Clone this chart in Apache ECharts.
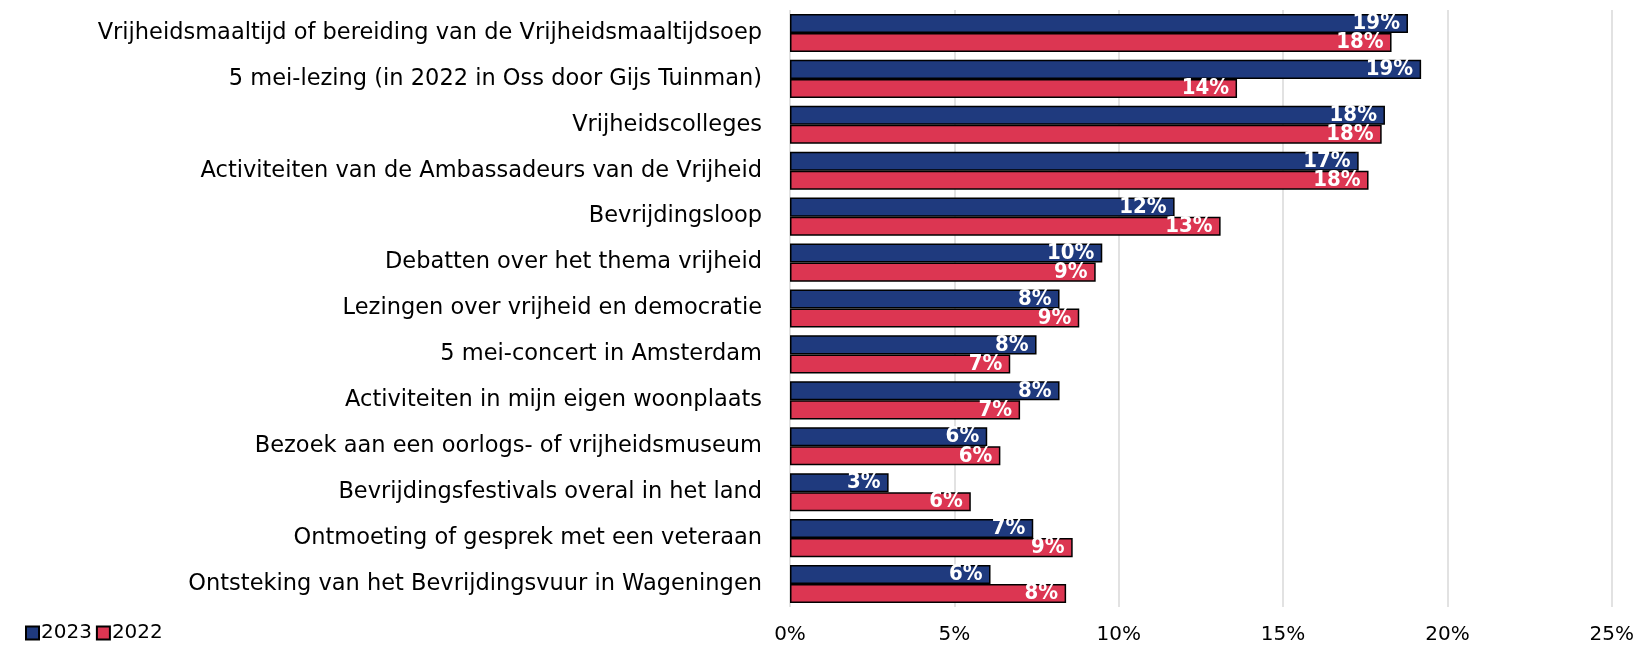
<!DOCTYPE html>
<html>
<head>
<meta charset="utf-8">
<script src="https://cdn.jsdelivr.net/npm/echarts@6/dist/echarts.min.js"></script>
<style>
  html, body { margin: 0; padding: 0; background: #fff; }
  #chart { width: 1637px; height: 646px; }
</style>
</head>
<body>
<div id="chart"></div>
<script>
// categorieen, van boven naar beneden
var categories = [
  'Vrijheidsmaaltijd of bereiding van de Vrijheidsmaaltijdsoep',
  '5 mei-lezing (in 2022 in Oss door Gijs Tuinman)',
  'Vrijheidscolleges',
  'Activiteiten van de Ambassadeurs van de Vrijheid',
  'Bevrijdingsloop',
  'Debatten over het thema vrijheid',
  'Lezingen over vrijheid en democratie',
  '5 mei-concert in Amsterdam',
  'Activiteiten in mijn eigen woonplaats',
  'Bezoek aan een oorlogs- of vrijheidsmuseum',
  'Bevrijdingsfestivals overal in het land',
  'Ontmoeting of gesprek met een veteraan',
  'Ontsteking van het Bevrijdingsvuur in Wageningen'
];
var values2023 = [18.8, 19.2, 18.1, 17.3, 11.7, 9.5, 8.2, 7.5, 8.2, 6.0, 3.0, 7.4, 6.1];
var values2022 = [18.3, 13.6, 18.0, 17.6, 13.1, 9.3, 8.8, 6.7, 7.0, 6.4, 5.5, 8.6, 8.4];
var seriesNames = ['2023', '2022'];
var xTicks = [0, 5, 10, 15, 20, 25];

var myChart = echarts.init(document.getElementById('chart'));

var labelFont = 'DejaVu Sans';

function valueLabel() {
    return {
        show: true,
        position: 'insideRight',
        distance: 8,
        color: '#fff',
        fontSize: 22,
        fontWeight: 'bold',
        fontFamily: 'DejaVu Sans Condensed',
        formatter: function (p) { return Math.round(p.value) + '%'; }
    };
}

var option = {
    animation: false,
    legend: {
        data: seriesNames,
        left: 20,
        bottom: -2,
        itemWidth: 13,
        itemHeight: 13,
        itemGap: 4,
        icon: 'rect',
        textStyle: { color: '#000', fontSize: 20, fontFamily: labelFont, padding: [0, 0, 0, -3] }
    },
    grid: {
        left: 790,
        right: 23,
        top: 10,
        bottom: 39
    },
    xAxis: {
        type: 'value',
        min: xTicks[0],
        max: xTicks[xTicks.length - 1],
        interval: 5,
        axisLine: { show: false },
        axisTick: { show: false },
        axisLabel: {
            color: '#000',
            fontSize: 20,
            fontFamily: labelFont,
            margin: 18,
            formatter: function (val) { return val + '%'; }
        },
        splitLine: { show: true, lineStyle: { color: '#d9d9d9', width: 1.5 } }
    },
    yAxis: {
        type: 'category',
        inverse: true,
        data: categories,
        axisLine: { show: false },
        axisTick: { show: false },
        axisLabel: {
            color: '#000',
            fontSize: 22.5,
            fontFamily: labelFont,
            margin: 28
        }
    },
    series: [
        {
            name: seriesNames[0],
            type: 'bar',
            data: values2023,
            barGap: '0%',
            barCategoryGap: '17%',
            itemStyle: { color: '#1f3a7e', borderColor: '#000', borderWidth: 1.5 },
            label: valueLabel()
        },
        {
            name: seriesNames[1],
            type: 'bar',
            data: values2022,
            itemStyle: { color: '#dc3652', borderColor: '#000', borderWidth: 1.5 },
            label: valueLabel()
        }
    ]
};

myChart.setOption(option);
</script>
</body>
</html>
